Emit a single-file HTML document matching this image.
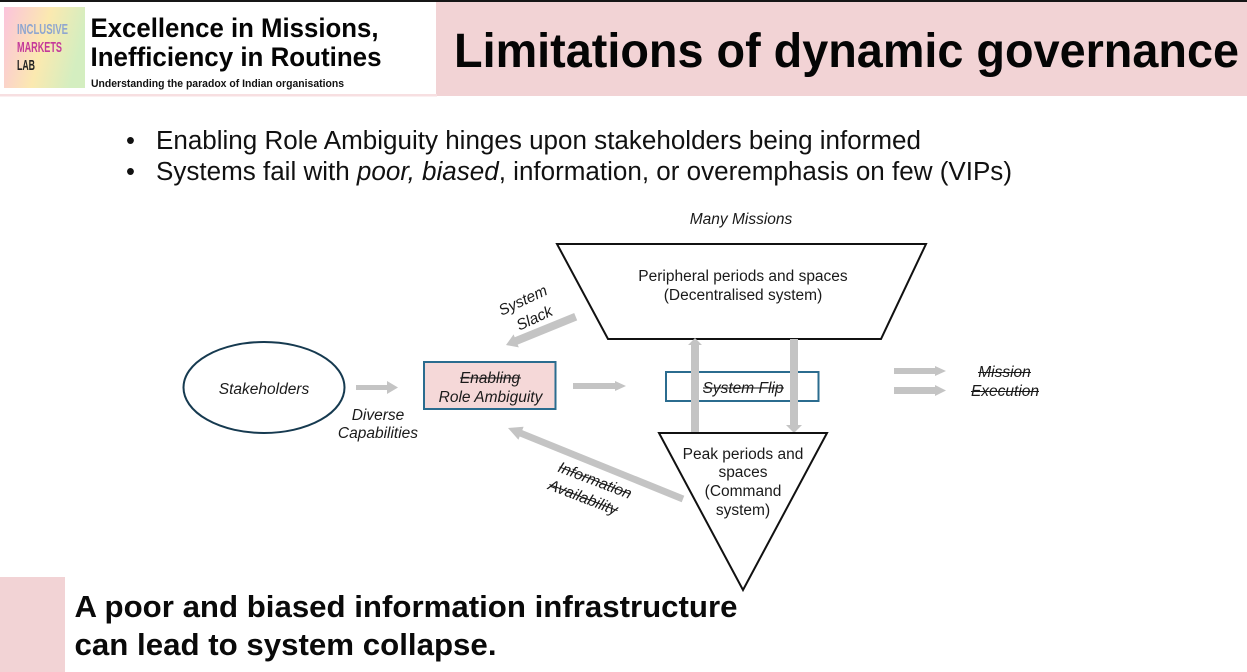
<!DOCTYPE html>
<html><head><meta charset="utf-8"><style>
html,body{margin:0;padding:0;background:#fff}
svg{display:block}
text{font-family:"Liberation Sans",sans-serif;fill:#1a1a1a}
.i{font-style:italic;font-size:15.5px}
.n{font-size:15.5px}
.m{text-anchor:middle}
</style></head><body>
<svg xmlns="http://www.w3.org/2000/svg" width="1247" height="672" viewBox="0 0 1247 672">
<defs>
<linearGradient id="g" x1="0" y1="0" x2="1" y2="0.25">
<stop offset="0" stop-color="#fbc3dc"/><stop offset="0.55" stop-color="#fbe9b0"/><stop offset="1" stop-color="#d4eec0"/>
</linearGradient>
</defs>
<rect width="1247" height="672" fill="#fff"/>
<rect x="0" y="0" width="1247" height="2" fill="#161616"/>
<rect x="436" y="2" width="811" height="94" fill="#f2d3d5"/>
<rect x="0" y="94" width="437" height="2.500" fill="#f7dfe1"/>
<rect x="4" y="7" width="81" height="81" fill="url(#g)"/>
<g font-weight="700" font-size="15">
<text x="17" y="34" style="fill:#8fa6cf" textLength="51" lengthAdjust="spacingAndGlyphs">INCLUSIVE</text>
<text x="17" y="52" style="fill:#c4399a" textLength="45" lengthAdjust="spacingAndGlyphs">MARKETS</text>
<text x="17" y="70" style="fill:#222" textLength="18" lengthAdjust="spacingAndGlyphs">LAB</text>
</g>
<g font-weight="700">
<text x="90.500" y="37" font-size="26.500" style="fill:#050505" textLength="288" lengthAdjust="spacingAndGlyphs">Excellence in Missions,</text>
<text x="90.500" y="66" font-size="26.500" style="fill:#050505" textLength="291" lengthAdjust="spacingAndGlyphs">Inefficiency in Routines</text>
<text x="91" y="87" font-size="11" style="fill:#111" textLength="253" lengthAdjust="spacingAndGlyphs">Understanding the paradox of Indian organisations</text>
<text x="454" y="67" font-size="48.500" style="fill:#050505" textLength="785" lengthAdjust="spacingAndGlyphs">Limitations of dynamic governance</text>
</g>
<g font-size="25.500">
<text x="126" y="149" style="fill:#111">•</text>
<text x="156" y="149" style="fill:#111" textLength="765" lengthAdjust="spacingAndGlyphs">Enabling Role Ambiguity hinges upon stakeholders being informed</text>
<text x="126" y="180" style="fill:#111">•</text>
<text x="156" y="180" style="fill:#111" textLength="856" lengthAdjust="spacingAndGlyphs">Systems fail with <tspan font-style="italic">poor, biased</tspan>, information, or overemphasis on few (VIPs)</text>
</g>
<text class="i m" x="741" y="224">Many Missions</text>
<polygon points="557,244 926,244 881,339 608,339" fill="#fff" stroke="#111" stroke-width="2"/>
<text class="n m" x="743" y="281">Peripheral periods and spaces</text>
<text class="n m" x="743" y="300">(Decentralised system)</text>
<ellipse cx="264" cy="387.500" rx="80.500" ry="45.500" fill="#fff" stroke="#163a50" stroke-width="2"/>
<text class="i m" x="264" y="394">Stakeholders</text>
<polygon points="356,385 387,385 387,381 398,387.500 387,394 387,390 356,390" fill="#c4c4c4"/>
<text class="i m" x="378" y="420">Diverse</text>
<text class="i m" x="378" y="438">Capabilities</text>
<rect x="424" y="362" width="131.500" height="47" fill="#f5d8d8" stroke="#2b6c8f" stroke-width="2"/>
<text class="i m" x="490" y="383">Enabling</text>
<line x1="460" y1="378" x2="521" y2="378" stroke="#1a1a1a" stroke-width="1"/>
<text class="i m" x="490.500" y="402">Role Ambiguity</text>
<polygon points="573,383 615,383 615,381 626,386 615,391 615,389 573,389" fill="#c4c4c4"/>
<polygon points="574.200,313 577.200,320.400 517.700,344.600 518.800,347.400 506,345 513.600,334.400 514.700,337.200" fill="#c4c4c4"/>
<g transform="rotate(-25 525 305)">
<text class="i m" x="525" y="305">System</text>
<text class="i m" x="528" y="326">Slack</text>
</g>
<polygon points="684.300,495.800 681.700,502.200 519.700,436.500 518.400,439.800 508,428 523.600,426.800 522.300,430.100" fill="#c4c4c4"/>
<g transform="rotate(21 592 488)">
<text class="i m" x="592" y="485">Information</text>
<line x1="554" y1="480" x2="630" y2="480" stroke="#1a1a1a"/>
<text class="i m" x="587" y="505">Availability</text>
<line x1="551" y1="500" x2="624" y2="500" stroke="#1a1a1a"/>
</g>
<rect x="666" y="372" width="152.500" height="29" fill="#fff" stroke="#2b6c8f" stroke-width="2"/>
<polygon points="691,433 691,345 688,345 695,338 702,345 699,345 699,433" fill="#c4c4c4"/>
<polygon points="790,339 798,339 798,425 802,425 794,433 786,425 790,425" fill="#c4c4c4"/>
<text class="i m" x="743" y="393">System Flip</text>
<line x1="703" y1="388" x2="784" y2="388" stroke="#1a1a1a"/>
<polygon points="659,433 827,433 743,590" fill="#fff" stroke="#111" stroke-width="2"/>
<text class="n m" x="743" y="459">Peak periods and</text>
<text class="n m" x="743" y="477">spaces</text>
<text class="n m" x="743" y="496">(Command</text>
<text class="n m" x="743" y="515">system)</text>
<polygon points="894,368 935,368 935,366 946,371 935,376 935,374 894,374" fill="#c4c4c4"/>
<polygon points="894,387 935,387 935,385 946,390.500 935,396 935,394 894,394" fill="#c4c4c4"/>
<text class="i m" x="1004.500" y="377">Mission</text>
<line x1="978" y1="372.500" x2="1031" y2="372.500" stroke="#1a1a1a"/>
<text class="i m" x="1005" y="396">Execution</text>
<line x1="971" y1="391.500" x2="1039" y2="391.500" stroke="#1a1a1a"/>
<rect x="0" y="577" width="65" height="95" fill="#f2d3d5"/>
<g font-weight="700" font-size="31">
<text x="74.500" y="617" style="fill:#0a0a0a" textLength="663" lengthAdjust="spacingAndGlyphs">A poor and biased information infrastructure</text>
<text x="74.500" y="655" style="fill:#0a0a0a" textLength="422" lengthAdjust="spacingAndGlyphs">can lead to system collapse.</text>
</g>
</svg>
</body></html>
